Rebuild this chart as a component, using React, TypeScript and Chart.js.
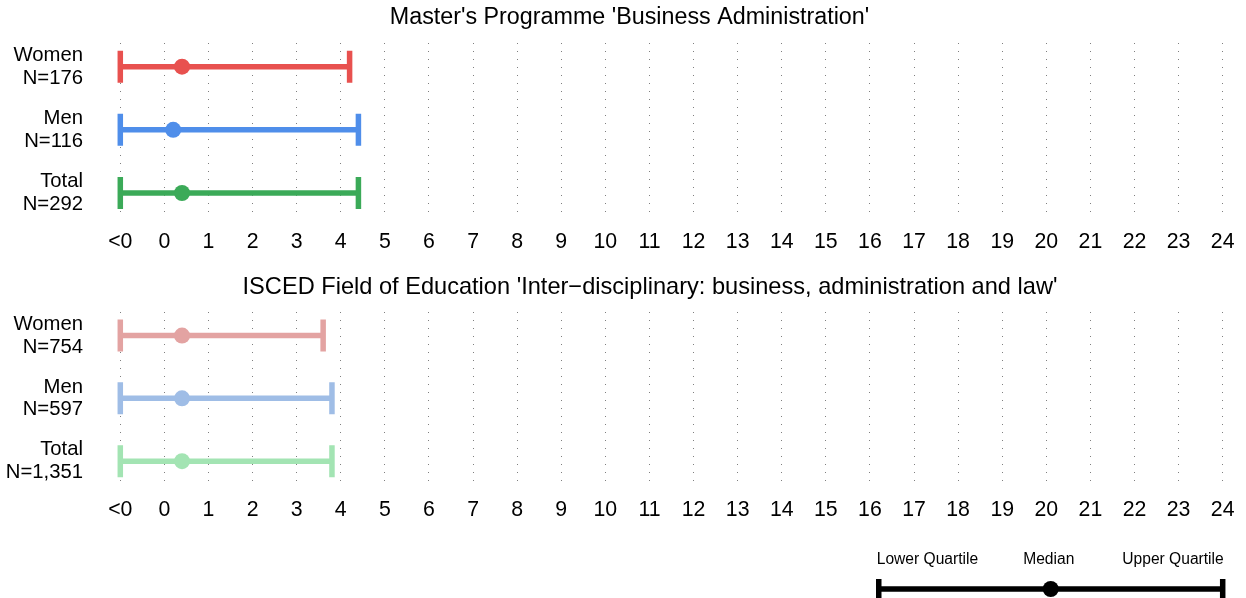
import React, { useEffect, useRef } from 'react';
import { Chart, registerables } from 'chart.js';
Chart.register(...registerables);

// ---------- data ----------
const groups = ['Women', 'Men', 'Total'];

const progTitle = "Master's Programme 'Business Administration'";
const progN = ['N=176', 'N=116', 'N=292'];
const progLower = [-1, -1, -1];
const progMedian = [0.4, 0.2, 0.4];
const progUpper = [4.2, 4.4, 4.4];
const progColors = ['#E8514F', '#4F8EEA', '#3BAA58'];

const fieldTitle = "ISCED Field of Education 'Inter\u2212disciplinary: business, administration and law'";
const fieldN = ['N=754', 'N=597', 'N=1,351'];
const fieldLower = [-1, -1, -1];
const fieldMedian = [0.4, 0.4, 0.4];
const fieldUpper = [3.6, 3.8, 3.8];
const fieldColors = ['#E3A3A2', '#9FBDE6', '#A3E4B3'];

const xTickValues = [-1, 0, 1, 2, 3, 4, 5, 6, 7, 8, 9, 10, 11, 12, 13, 14, 15, 16, 17, 18, 19, 20, 21, 22, 23, 24];
const xTickLabels = ['<0', '0', '1', '2', '3', '4', '5', '6', '7', '8', '9', '10', '11', '12', '13', '14', '15', '16', '17', '18', '19', '20', '21', '22', '23', '24'];

const legendLabels = ['Lower Quartile', 'Median', 'Upper Quartile'];
const legendValues = [16.2, 20.1, 24];

// ---------- styling ----------
const FONT = "'Liberation Sans', Arial, Helvetica, sans-serif";
const W = 1246;
const X_MIN = -1.2;
const X_MAX = 24.2;
const Y_MIN = -0.375;
const Y_MAX = 2.38;
const Y_AXIS_W = 111.48;
const X_AXIS_H = 48;
const RIGHT_PAD = 14.48;
const LINE_W = 5.5;
const CAP_HALF = 16;
const DOT_R = 8;

type Panel = {
  title: string;
  titleX: number;
  titleY: number;
  titleSize: number;
  n: string[];
  lower: number[];
  median: number[];
  upper: number[];
  colors: string[];
  padTop: number;
  padBottom: number;
  legend: boolean;
  legendLineY?: number;
  legendTextY?: number;
};

function makeChart(canvas: HTMLCanvasElement, p: Panel) {
  const barsPlugin = {
    id: 'quartileBars',
    beforeDatasetsDraw(chart: any) {
      const ctx = chart.ctx;
      const xs = chart.scales.x;
      const ys = chart.scales.y;
      ctx.save();
      ctx.lineCap = 'butt';
      for (let i = 0; i < p.lower.length; i++) {
        const x1 = xs.getPixelForValue(p.lower[i]);
        const x2 = xs.getPixelForValue(p.upper[i]);
        const y = ys.getPixelForValue(i);
        ctx.strokeStyle = p.colors[i];
        ctx.lineWidth = LINE_W;
        ctx.beginPath();
        ctx.moveTo(x1, y);
        ctx.lineTo(x2, y);
        ctx.stroke();
        ctx.beginPath();
        ctx.moveTo(x1, y - CAP_HALF);
        ctx.lineTo(x1, y + CAP_HALF);
        ctx.moveTo(x2, y - CAP_HALF);
        ctx.lineTo(x2, y + CAP_HALF);
        ctx.stroke();
      }
      ctx.restore();
    },
    afterDraw(chart: any) {
      const ctx = chart.ctx;
      ctx.save();
      ctx.fillStyle = '#000';
      ctx.font = `${p.titleSize}px ${FONT}`;
      ctx.textAlign = 'center';
      ctx.textBaseline = 'middle';
      ctx.fillText(p.title, p.titleX, p.titleY);
      if (p.legend) {
        const xs = chart.scales.x;
        const lx = legendValues.map((v) => xs.getPixelForValue(v));
        const ly = p.legendLineY as number;
        ctx.strokeStyle = '#000';
        ctx.fillStyle = '#000';
        ctx.lineWidth = LINE_W;
        ctx.beginPath();
        ctx.moveTo(lx[0], ly);
        ctx.lineTo(lx[2], ly);
        ctx.moveTo(lx[0], ly - CAP_HALF + 6);
        ctx.lineTo(lx[0], ly + CAP_HALF);
        ctx.moveTo(lx[2], ly - CAP_HALF + 6);
        ctx.lineTo(lx[2], ly + CAP_HALF);
        ctx.stroke();
        ctx.beginPath();
        ctx.arc(lx[1], ly, DOT_R, 0, Math.PI * 2);
        ctx.fill();
        ctx.font = `15.6px ${FONT}`;
        const ty = p.legendTextY as number;
        ctx.textAlign = 'left';
        ctx.fillText(legendLabels[0], lx[0] - 2, ty);
        ctx.textAlign = 'center';
        ctx.fillText(legendLabels[1], lx[1] - 2, ty);
        ctx.textAlign = 'right';
        ctx.fillText(legendLabels[2], lx[2] + 1, ty);
      }
      ctx.restore();
    },
  };

  return new Chart(canvas, {
    type: 'scatter',
    data: {
      datasets: [
        {
          data: p.median.map((m, i) => ({ x: m, y: i })),
          pointRadius: DOT_R,
          pointHoverRadius: DOT_R,
          pointBackgroundColor: p.colors,
          pointBorderWidth: 0,
          borderWidth: 0,
        },
      ],
    },
    options: {
      responsive: false,
      animation: false,
      events: [],
      layout: { padding: { top: p.padTop, bottom: p.padBottom, left: 0, right: RIGHT_PAD } },
      plugins: { legend: { display: false }, tooltip: { enabled: false }, title: { display: false } },
      scales: {
        x: {
          type: 'linear',
          position: 'bottom',
          min: X_MIN,
          max: X_MAX,
          afterBuildTicks: (s: any) => {
            s.ticks = xTickValues.map((v) => ({ value: v }));
          },
          afterFit: (s: any) => {
            s.height = X_AXIS_H;
            s.paddingLeft = 0;
            s.paddingRight = 0;
            s.paddingTop = 0;
            s.paddingBottom = 0;
          },
          ticks: {
            autoSkip: false,
            maxRotation: 0,
            color: '#000',
            padding: 12,
            font: { family: FONT, size: 21.3 },
            callback: (v: any) => xTickLabels[xTickValues.indexOf(Number(v))],
          },
          grid: { display: true, color: 'rgba(0,0,0,0.5)', lineWidth: 1, drawTicks: false },
          border: { display: false, dash: [1, 7] },
        },
        y: {
          type: 'linear',
          position: 'left',
          reverse: true,
          min: Y_MIN,
          max: Y_MAX,
          afterBuildTicks: (s: any) => {
            s.ticks = groups.map((_, i) => ({ value: i }));
          },
          afterFit: (s: any) => {
            s.width = Y_AXIS_W;
            s.paddingTop = 0;
            s.paddingBottom = 0;
            s.paddingLeft = 0;
            s.paddingRight = 0;
          },
          ticks: {
            color: '#000',
            padding: 28.5,
            font: { family: FONT, size: 20.3, lineHeight: 1.12 },
            callback: (v: any) => [groups[Number(v)], p.n[Number(v)]],
          },
          grid: { display: false, drawTicks: false },
          border: { display: false },
        },
      },
    },
    plugins: [barsPlugin],
  } as any);
}

export default function App() {
  const topRef = useRef<HTMLCanvasElement>(null);
  const botRef = useRef<HTMLCanvasElement>(null);

  useEffect(() => {
    const c1 = makeChart(topRef.current as HTMLCanvasElement, {
      title: progTitle,
      titleX: 629.5,
      titleY: 18,
      titleSize: 23.3,
      n: progN,
      lower: progLower,
      median: progMedian,
      upper: progUpper,
      colors: progColors,
      padTop: 43,
      padBottom: 0,
      legend: false,
    });
    const c2 = makeChart(botRef.current as HTMLCanvasElement, {
      title: fieldTitle,
      titleX: 650,
      titleY: 22.5,
      titleSize: 23.6,
      n: fieldN,
      lower: fieldLower,
      median: fieldMedian,
      upper: fieldUpper,
      colors: fieldColors,
      padTop: 47,
      padBottom: 65,
      legend: true,
      legendLineY: 324,
      legendTextY: 295,
    });
    return () => {
      c1.destroy();
      c2.destroy();
    };
  }, []);

  return (
    <div style={{ position: 'absolute', left: 0, top: 0, width: W, height: 598, background: '#fff' }}>
      <canvas ref={topRef} width={W} height={265} style={{ position: 'absolute', left: 0, top: 0 }} />
      <canvas ref={botRef} width={W} height={333} style={{ position: 'absolute', left: 0, top: 265 }} />
    </div>
  );
}
